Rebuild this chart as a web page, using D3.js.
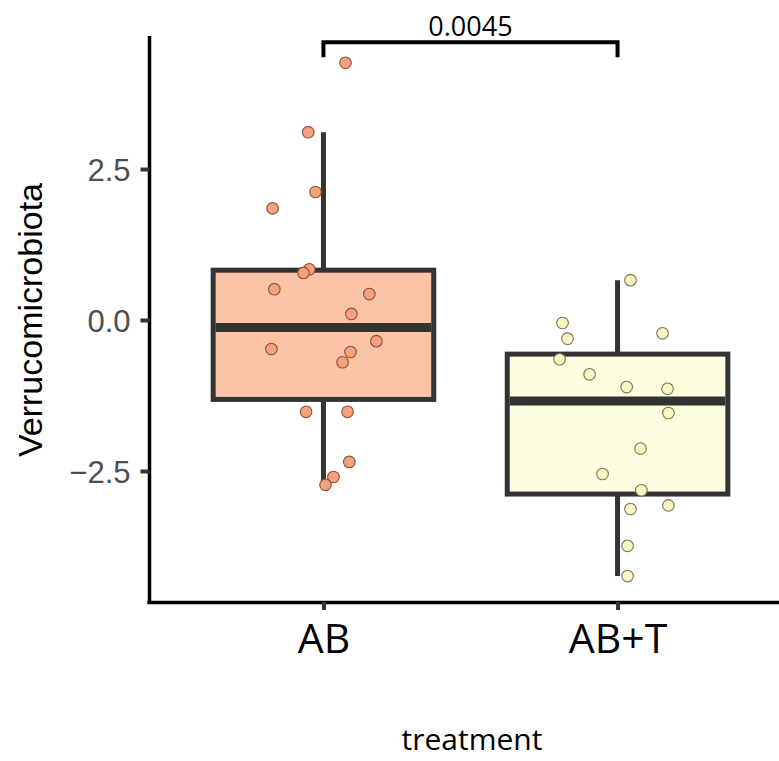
<!DOCTYPE html>
<html>
<head>
<meta charset="utf-8">
<script src="https://cdn.jsdelivr.net/npm/d3@7"></script>
<style>
    body { margin: 0; background: #fff; }
    svg { display: block; }
</style>
</head>
<body>
<svg id="chart"></svg>
<script>
// groups on the x axis
var groups = ["AB", "AB+T"];

// Verrucomicrobiota values, with their jitter (in group units)
var abValues = [4.26, 3.11, 2.12, 1.85, 0.84, 0.78, 0.51, 0.43, 0.10, -0.48, -0.35, -0.53, -0.70, -1.52, -1.52, -2.35, -2.60, -2.73];
var abJitter = [0.075, -0.052, -0.027, -0.173, -0.048, -0.068, -0.167, 0.156, 0.095, -0.177, 0.180, 0.092, 0.065, -0.059, 0.082, 0.088, 0.034, 0.007];

var abtValues = [0.66, -0.05, -0.31, -0.22, -0.65, -0.90, -1.11, -1.14, -1.54, -2.13, -2.55, -2.82, -3.13, -3.07, -3.74, -4.24];
var abtJitter = [0.044, -0.187, -0.170, 0.153, -0.197, -0.095, 0.031, 0.170, 0.173, 0.078, -0.051, 0.081, 0.044, 0.173, 0.034, 0.034];

var yTicks = [-2.5, 0, 2.5];
var pValue = "0.0045";

var style = {
    boxFill: ["#fbc4a9", "#fefde0"],
    pointFill: ["#f4a17d", "#fbf6c2"],
    pointStroke: ["#8a5238", "#77775a"],
    line: "#333333"
};

var chart = {
    setup: function() {
        var w = 779, h = 761;
        var svg = d3.select("#chart").attr("width", w).attr("height", h);

        var x = d3.scaleLinear().domain([0.4, 2.6]).range([147, 794]);
        var y = d3.scaleLinear().domain([-4.67, 4.67]).range([602, 38]);

        var data = [
            { name: groups[0], pos: 1, values: abValues, jitter: abJitter },
            { name: groups[1], pos: 2, values: abtValues, jitter: abtJitter }
        ];

        data.forEach(function(d) {
            var s = d.values.slice().sort(d3.ascending);
            d.q1 = d3.quantile(s, 0.25);
            d.med = d3.quantile(s, 0.5);
            d.q3 = d3.quantile(s, 0.75);
            var iqr = d.q3 - d.q1;
            d.lo = d3.min(s.filter(function(v) { return v >= d.q1 - 1.5 * iqr; }));
            d.hi = d3.max(s.filter(function(v) { return v <= d.q3 + 1.5 * iqr; }));
        });

        this.axes(svg, x, y);
        this.boxes(svg, x, y, data);
        this.points(svg, x, y, data);
        this.bracket(svg, x, y);
        this.titles(svg);
    },
    axes: function(svg, x, y) {
        var yAxis = svg.append("g")
            .attr("class", "axis axis--y")
            .attr("transform", "translate(149.5,0)")
            .call(d3.axisLeft(y).tickValues(yTicks).tickSize(9).tickSizeOuter(0).tickPadding(10)
                .tickFormat(d3.format(".1f")));

        yAxis.select(".domain").attr("stroke", "#000").attr("stroke-width", 3.5)
            .attr("d", "M0," + (y.range()[0] + 2) + "V" + (y.range()[1] - 2));
        yAxis.selectAll(".tick line").attr("stroke", style.line).attr("stroke-width", 4);
        yAxis.selectAll(".tick text")
            .attr("fill", "#4d4d4d")
            .attr("font-family", "'Liberation Sans', Arial, sans-serif")
            .attr("font-size", 31)
            .attr("dy", "0.36em");

        var xAxis = svg.append("g")
            .attr("class", "axis axis--x")
            .attr("transform", "translate(0,602)")
            .call(d3.axisBottom(x).tickValues([1, 2]).tickSize(8).tickSizeOuter(0).tickPadding(14)
                .tickFormat(function(d) { return groups[d - 1]; }));

        xAxis.select(".domain").attr("stroke", "#000").attr("stroke-width", 3.5);
        xAxis.selectAll(".tick line").attr("stroke", style.line).attr("stroke-width", 4);
        xAxis.selectAll(".tick text")
            .attr("fill", "#000")
            .attr("font-family", "'Open Sans', sans-serif")
            .attr("font-size", 41)
            .attr("dy", "0.71em");
    },
    boxes: function(svg, x, y, data) {
        var half = 0.375;
        var g = svg.append("g").attr("class", "boxes");

        var box = g.selectAll(".box")
            .data(data)
            .enter().append("g")
            .attr("class", "box");

        box.append("line")
            .attr("x1", function(d) { return x(d.pos); })
            .attr("x2", function(d) { return x(d.pos); })
            .attr("y1", function(d) { return y(d.hi); })
            .attr("y2", function(d) { return y(d.lo); })
            .attr("stroke", style.line)
            .attr("stroke-width", 5);

        box.append("rect")
            .attr("x", function(d) { return x(d.pos - half); })
            .attr("width", function(d) { return x(d.pos + half) - x(d.pos - half); })
            .attr("y", function(d) { return y(d.q3); })
            .attr("height", function(d) { return y(d.q1) - y(d.q3); })
            .attr("fill", function(d, i) { return style.boxFill[i]; })
            .attr("stroke", style.line)
            .attr("stroke-width", 5);

        box.append("line")
            .attr("x1", function(d) { return x(d.pos - half) + 2.5; })
            .attr("x2", function(d) { return x(d.pos + half) - 2.5; })
            .attr("y1", function(d) { return y(d.med); })
            .attr("y2", function(d) { return y(d.med); })
            .attr("stroke", style.line)
            .attr("stroke-width", 9);
    },
    points: function(svg, x, y, data) {
        var g = svg.append("g").attr("class", "points");
        data.forEach(function(d, i) {
            g.selectAll(".pt" + i)
                .data(d.values)
                .enter().append("circle")
                .attr("class", "pt" + i)
                .attr("cx", function(v, j) { return x(d.pos + d.jitter[j]); })
                .attr("cy", function(v) { return y(v); })
                .attr("r", 5.8)
                .attr("fill", style.pointFill[i])
                .attr("stroke", style.pointStroke[i])
                .attr("stroke-width", 1.1);
        });
    },
    bracket: function(svg, x, y) {
        var top = y(4.6), foot = y(4.35);
        svg.append("path")
            .attr("d", "M" + x(1) + "," + foot + "V" + top + "H" + x(2) + "V" + foot)
            .attr("fill", "none")
            .attr("stroke", "#000")
            .attr("stroke-width", 4);

        svg.append("text")
            .attr("x", (x(1) + x(2)) / 2)
            .attr("y", top - 6)
            .attr("text-anchor", "middle")
            .attr("font-family", "'Open Sans', sans-serif")
            .attr("font-size", 27)
            .attr("fill", "#000")
            .text(pValue);
    },
    titles: function(svg) {
        svg.append("text")
            .attr("x", 472)
            .attr("y", 750)
            .attr("text-anchor", "middle")
            .attr("font-family", "'Open Sans', sans-serif")
            .attr("font-size", 30)
            .attr("fill", "#000")
            .text("treatment");

        svg.append("text")
            .attr("transform", "translate(42,320) rotate(-90)")
            .attr("text-anchor", "middle")
            .attr("font-family", "'Liberation Sans', Arial, sans-serif")
            .attr("font-size", 34)
            .attr("fill", "#000")
            .text("Verrucomicrobiota");
    }
};

chart.setup();
</script>
</body>
</html>
